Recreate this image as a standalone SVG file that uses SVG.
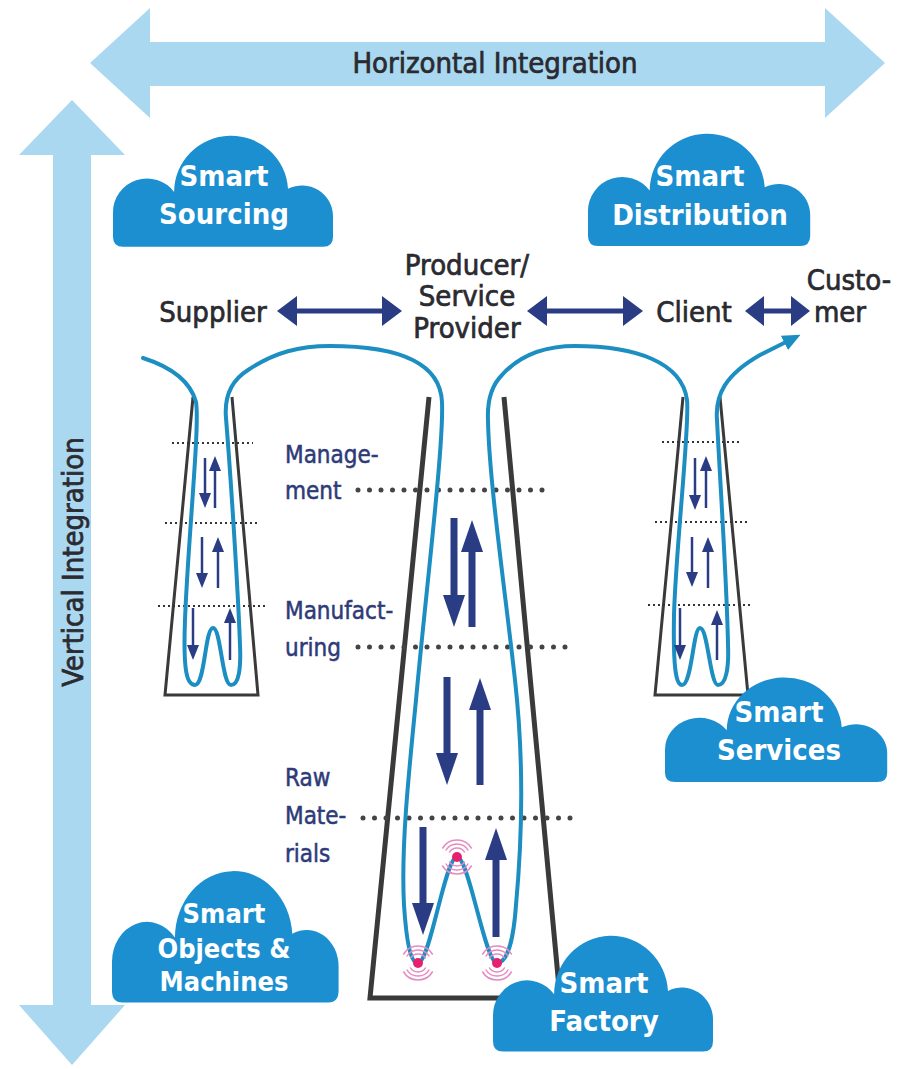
<svg xmlns="http://www.w3.org/2000/svg" xmlns:xlink="http://www.w3.org/1999/xlink" width="897" height="1069" viewBox="0 0 897 1069">
<style>
.axis{fill:#aad8f0}
.lbl{font-family:"DejaVu Sans Condensed","DejaVu Sans","Liberation Sans",sans-serif;font-size:29px;fill:#2a2a30;stroke:#2a2a30;stroke-width:0.7;text-anchor:middle}
.lvl{font-family:"DejaVu Sans Condensed","DejaVu Sans","Liberation Sans",sans-serif;font-size:24px;fill:#2e3b78;stroke:#2e3b78;stroke-width:0.5}
.ct{font-family:"DejaVu Sans Condensed","DejaVu Sans","Liberation Sans",sans-serif;font-weight:bold;font-size:29px;fill:#ffffff;text-anchor:middle}
.cloud{fill:#1c8fd0}
.funnel{fill:none;stroke:#3a3a3a;stroke-linejoin:miter}
.flow{fill:none;stroke:#1c8ec2;stroke-width:4;stroke-linecap:round;stroke-linejoin:round}
.sa{stroke:#2a3d84;stroke-width:2.5;marker-end:url(#sah)}
.ba{stroke:#2a3d84;stroke-width:7;marker-end:url(#bah)}
.dh{fill:#2a3d84}
.thin{stroke:#333;stroke-width:2;stroke-dasharray:2 3}
.dots{stroke:#444;stroke-width:5;stroke-linecap:round;stroke-dasharray:0 11.5}
.wave{fill:none;stroke:#e58ac0;stroke-width:1.5}
</style>
<defs>
<marker id="sah" markerUnits="userSpaceOnUse" markerWidth="15" markerHeight="12" viewBox="0 0 15 12" refX="10" refY="6" orient="auto"><path d="M0,0 L15,6 L0,12 z" fill="#2a3d84"/></marker>
<marker id="bah" markerUnits="userSpaceOnUse" markerWidth="32" markerHeight="22" viewBox="0 0 32 22" refX="20" refY="11" orient="auto"><path d="M0,0 L32,11 L0,22 z" fill="#2a3d84"/></marker>
<marker id="fh" markerUnits="userSpaceOnUse" markerWidth="18" markerHeight="16" viewBox="0 0 18 16" refX="4" refY="8" orient="auto"><path d="M0,0 L18,8 L0,16 z" fill="#1c8ec2"/></marker>
<path id="cl" d="M0,80 A34,34 0 0 1 61.1,59.5 A57,57 0 0 1 175,56.3 A31,31 0 0 1 220,84 L220,105 Q220,115 210,115 L10,115 Q0,115 0,105 Z"/>
<g id="sensor">
<path class="wave" d="M-7.8,-4.5 A9,9 0 0 1 7.8,-4.5 M-11.3,-6.5 A13,13 0 0 1 11.3,-6.5 M-14.7,-8.5 A17,17 0 0 1 14.7,-8.5 M-7.8,4.5 A9,9 0 0 0 7.8,4.5 M-11.3,6.5 A13,13 0 0 0 11.3,6.5 M-14.7,8.5 A17,17 0 0 0 14.7,8.5"/>
<circle r="5" fill="#e6206e"/>
</g>
</defs>

<g id="horizontal-integration">
<polygon class="axis" points="90,63 150,8 150,42 825,42 825,8 885,63 825,118 825,86 150,86 150,118"/>
<text class="lbl" x="495" y="73">Horizontal Integration</text>
</g>
<g id="vertical-integration">
<polygon class="axis" points="72,100 125,155 91,155 91,1005 125,1005 72,1065 19,1005 53,1005 53,155 19,155"/>
<text class="lbl" transform="translate(83,562) rotate(-90)">Vertical Integration</text>
</g>

<g id="funnels">
<polyline class="funnel" stroke-width="3" points="193,397 165,695 258,695 232,397"/>
<polyline class="funnel" stroke-width="5" points="429,397 370,998 560,998 504,397"/>
<polyline class="funnel" stroke-width="3" points="683,397 655,695 748,695 720,397"/>
</g>

<g id="levels">
<line class="thin" x1="172" y1="443" x2="253" y2="443"/>
<line class="thin" x1="165" y1="523" x2="260" y2="523"/>
<line class="thin" x1="158" y1="606" x2="265" y2="606"/>
<line class="thin" x1="662" y1="442" x2="742" y2="442"/>
<line class="thin" x1="655" y1="522" x2="748" y2="522"/>
<line class="thin" x1="648" y1="605" x2="753" y2="605"/>
<line class="dots" x1="358" y1="490" x2="546" y2="490"/>
<line class="dots" x1="358" y1="647" x2="566" y2="647"/>
<line class="dots" x1="363" y1="818" x2="574" y2="818"/>
<text class="lvl" x="285" y="463">Manage-</text>
<text class="lvl" x="285" y="499">ment</text>
<text class="lvl" x="285" y="619">Manufact-</text>
<text class="lvl" x="285" y="656">uring</text>
<text class="lvl" x="285" y="786">Raw</text>
<text class="lvl" x="285" y="824">Mate-</text>
<text class="lvl" x="285" y="862">rials</text>
</g>

<g id="connectors">
<path class="flow" marker-end="url(#fh)" d="M143,358 C168,366 190,380 196,402 C200,425 188,540 185,620 C183,672 187,685 195,685 C205,685 205,628 213,628 C221,628 222,685 231,685 C239,685 241,668 240,645 C238,590 231,480 226,418 C224,395 232,380 248,370 C275,352 300,346 330,346 C390,346 440,358 442,402 C444,445 425,600 416,700 C408,780 401,850 404,905 C407,950 412,963 418,963 C430,963 445,857 457,857 C469,857 485,963 497,963 C505,963 513,948 516,905 C522,840 524,760 515,680 C505,590 489,480 488,420 C487,398 492,385 502,375 C520,355 545,346 575,346 C635,346 682,362 687,400 C690,425 676,545 674,615 C673,668 676,685 682,685 C692,685 693,628 700,628 C708,628 710,685 718,685 C726,685 729,668 728,645 C727,585 720,480 717,420 C715,395 725,375 760,355 L788,341"/>
<polygon class="dh" points="277,311 297,296 297,308.5 382,308.5 382,296 402,311 382,326 382,313.5 297,313.5 297,326"/>
<polygon class="dh" points="527,311 547,296 547,308.5 623,308.5 623,296 643,311 623,326 623,313.5 547,313.5 547,326"/>
<polygon class="dh" points="745,311 764,296 764,308.5 791,308.5 791,296 810,311 791,326 791,313.5 764,313.5 764,326"/>
<line class="sa" x1="205" y1="458" x2="205" y2="503"/>
<line class="sa" x1="215" y1="508" x2="215" y2="461"/>
<line class="sa" x1="202" y1="537" x2="202" y2="583"/>
<line class="sa" x1="218" y1="588" x2="218" y2="542"/>
<line class="sa" x1="193" y1="608" x2="193" y2="655"/>
<line class="sa" x1="230" y1="660" x2="230" y2="613"/>
<line class="sa" x1="695" y1="458" x2="695" y2="505"/>
<line class="sa" x1="706" y1="508" x2="706" y2="461"/>
<line class="sa" x1="692" y1="537" x2="692" y2="582"/>
<line class="sa" x1="708" y1="588" x2="708" y2="542"/>
<line class="sa" x1="680" y1="608" x2="680" y2="655"/>
<line class="sa" x1="717" y1="660" x2="717" y2="615"/>
<line class="ba" x1="454" y1="518" x2="454" y2="615"/>
<line class="ba" x1="472" y1="627" x2="472" y2="532"/>
<line class="ba" x1="447" y1="677" x2="447" y2="773"/>
<line class="ba" x1="480" y1="785" x2="480" y2="690"/>
<line class="ba" x1="423" y1="827" x2="423" y2="923"/>
<line class="ba" x1="496" y1="937" x2="496" y2="840"/>
<use xlink:href="#sensor" href="#sensor" x="418" y="963"/>
<use xlink:href="#sensor" href="#sensor" x="457" y="857"/>
<use xlink:href="#sensor" href="#sensor" x="497" y="963"/>
</g>

<g id="supplier"><text class="lbl" x="213" y="322">Supplier</text></g>
<g id="producer">
<text class="lbl" x="467" y="275">Producer/</text>
<text class="lbl" x="467" y="306">Service</text>
<text class="lbl" x="467" y="338">Provider</text>
</g>
<g id="client"><text class="lbl" x="694" y="322">Client</text></g>
<g id="customer">
<text class="lbl" x="849" y="290">Custo-</text>
<text class="lbl" x="840" y="322">mer</text>
</g>

<g id="smart-sourcing">
<use xlink:href="#cl" href="#cl" class="cloud" transform="translate(113,133) scale(1,0.99)"/>
<text class="ct" x="224" y="186">Smart</text>
<text class="ct" x="224" y="224">Sourcing</text>
</g>
<g id="smart-distribution">
<use xlink:href="#cl" href="#cl" class="cloud" transform="translate(588,131) scale(1.01,1)"/>
<text class="ct" x="700" y="186">Smart</text>
<text class="ct" x="700" y="225">Distribution</text>
</g>
<g id="smart-services">
<use xlink:href="#cl" href="#cl" class="cloud" transform="translate(665,675) scale(1.01,0.93)"/>
<text class="ct" x="779" y="722">Smart</text>
<text class="ct" x="779" y="760">Services</text>
</g>
<g id="smart-factory">
<use xlink:href="#cl" href="#cl" class="cloud" transform="translate(493,933) scale(1,1.03)"/>
<text class="ct" x="604" y="993">Smart</text>
<text class="ct" x="604" y="1031">Factory</text>
</g>
<g id="smart-objects">
<use xlink:href="#cl" href="#cl" class="cloud" transform="translate(112,868) scale(1.03,1.17)"/>
<text class="ct" x="224" y="923" style="font-size:27px">Smart</text>
<text class="ct" x="224" y="958" style="font-size:27px">Objects &amp;</text>
<text class="ct" x="224" y="991" style="font-size:27px">Machines</text>
</g>
</svg>
